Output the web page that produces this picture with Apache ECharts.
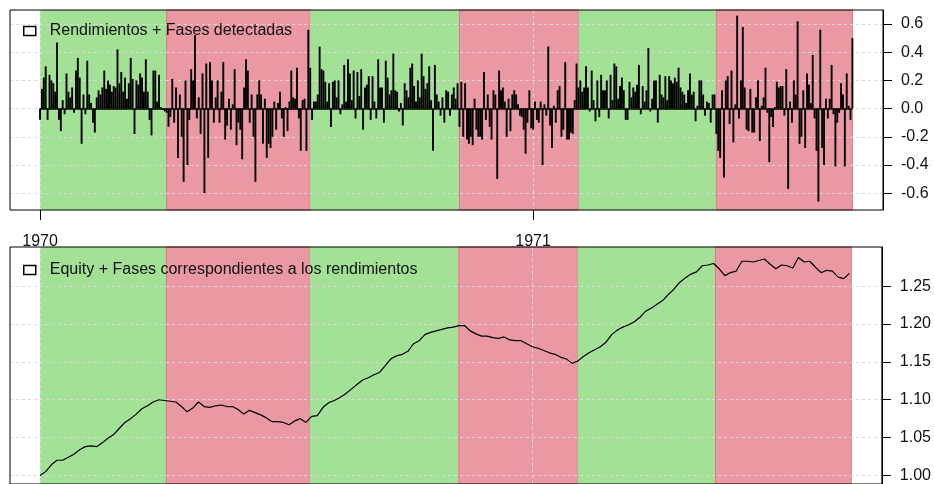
<!DOCTYPE html>
<html>
<head>
<meta charset="utf-8">
<script src="https://cdn.jsdelivr.net/npm/echarts@6/dist/echarts.min.js"></script>
<style>
  html, body { margin: 0; padding: 0; background: #fff; }
  #chart { width: 934px; height: 484px; }
</style>
</head>
<body>
<div id="chart"></div>
<script>
// Daily returns (%) grouped by detected phase, in trading-day order
const returnsFase1 = [ // alcista
  -0.08, 0.14, 0.22, 0.30, -0.08, 0.24, 0.20, 0.18, 0.12, 0.47,
  -0.08, -0.16, 0.06, -0.04, 0.25, 0.12, 0.08, 0.15, -0.03, 0.27,
  0.36, 0.22, -0.25, 0.10, -0.04, 0.34, 0.10, 0.04, -0.10, -0.17,
  0.08, 0.13, 0.10, 0.15, 0.27, 0.14, 0.20, 0.17, 0.12, 0.16,
  0.15, 0.42, 0.18, 0.26, 0.12, 0.22, 0.07, 0.18, 0.36, 0.21,
  -0.18, 0.20, 0.17, 0.25, 0.22, 0.12, 0.35, 0.12, -0.08, -0.19,
  0.27, 0.27, 0.05, 0.24, 0.01, -0.01, -0.02
];
const returnsFase2 = [ // bajista
  -0.03, -0.13, -0.06, 0.21, -0.10, 0.15, -0.35, 0.10, -0.20, -0.52,
  0.20, -0.40, -0.08, 0.28, 0.20, 0.52, -0.07, 0.08, -0.18, 0.25,
  -0.60, 0.32, -0.35, 0.33, 0.20, -0.10, 0.08, 0.20, -0.10, 0.12,
  0.33, -0.22, -0.12, 0.07, -0.15, 0.03, 0.28, -0.26, -0.10, -0.15,
  -0.36, 0.15, 0.35, 0.27, -0.10, 0.10, -0.20, -0.52, 0.10, 0.20,
  0.10, -0.25, 0.07, -0.35, -0.25, -0.28, -0.20, 0.05, -0.15, 0.04,
  0.12, -0.07, -0.20, 0.01, -0.16, 0.05, 0.27, 0.08, 0.07, 0.29,
  -0.07, -0.30, 0.06, 0.07, -0.30, 0.56
];
const returnsFase3 = [ // alcista
  0.29, -0.08, 0.05, 0.05, 0.10, 0.44, 0.28, 0.27, 0.19, 0.05,
  0.18, -0.13, 0.19, 0.20, 0.08, 0.20, -0.04, 0.03, 0.31, 0.05,
  0.35, 0.25, 0.06, 0.27, -0.07, 0.26, 0.09, 0.28, -0.15, 0.15,
  0.17, 0.23, -0.08, 0.23, 0.05, -0.07, 0.35, 0.15, 0.15, -0.10,
  0.34, 0.22, 0.10, 0.13, 0.39, 0.13, 0.12, -0.02, 0.04, -0.12,
  0.18, 0.13, 0.08, 0.29, 0.32, 0.16, 0.05, 0.20, 0.08, 0.39,
  0.23, 0.14, 0.18, 0.30, 0.06, -0.30, 0.31, 0.10, 0.05, -0.05,
  0.08, -0.10, 0.13, 0.12, -0.05, 0.10, 0.15, 0.07, 0.18
];
const returnsFase4 = [ // bajista
  -0.13, 0.19, -0.20, 0.18, -0.22, -0.25, -0.20, -0.26, 0.07, -0.15,
  -0.20, -0.20, -0.22, 0.26, -0.08, 0.10, -0.13, -0.22, 0.13, 0.10,
  -0.50, 0.27, 0.13, 0.15, 0.05, -0.20, 0.07, -0.16, 0.10, 0.13,
  0.10, 0.03, -0.05, -0.06, -0.15, -0.32, -0.10, 0.13, -0.14, -0.15,
  0.05, -0.08, -0.10, 0.05, -0.40, 0.03, -0.05, 0.44, -0.12, -0.28,
  0.02, -0.10, 0.13, 0.16, -0.20, -0.15, 0.33, -0.22, -0.22, -0.17,
  -0.18, 0.06, 0.32
];
const returnsFase5 = [ // alcista
  0.15, 0.20, 0.12, 0.15, 0.30, 0.15, -0.02, 0.27, 0.06, -0.09,
  0.20, -0.06, 0.24, 0.13, 0.13, 0.20, -0.07, 0.24, 0.06, 0.32,
  0.30, 0.07, 0.16, 0.22, 0.13, -0.08, -0.08, 0.19, 0.08, 0.15,
  0.12, 0.17, 0.31, -0.04, 0.16, 0.05, 0.13, 0.43, -0.02, 0.07,
  0.20, 0.20, -0.10, 0.24, 0.10, 0.08, 0.23, 0.06, 0.23, 0.20,
  0.18, 0.22, 0.19, 0.29, 0.15, 0.12, 0.10, 0.04, 0.13, 0.25,
  0.10, 0.12, -0.09, 0.02, 0.20, 0.20, 0.10, -0.05, 0.05, 0.04,
  -0.10, 0.10, 0.10
];
const returnsFase6 = [ // bajista
  -0.18, -0.30, -0.35, 0.13, -0.49, 0.20, 0.23, -0.11, 0.27, -0.24,
  0.03, 0.66, -0.07, 0.20, 0.58, 0.15, -0.15, -0.16, 0.14, -0.17,
  -0.17, 0.08, 0.20, -0.23, 0.02, 0.08, 0.29, -0.03, -0.38, -0.06,
  -0.13, 0.01, 0.19, 0.15, 0.16, 0.16, -0.05, 0.28, -0.57, 0.05,
  -0.10, 0.20, 0.10, 0.62, -0.25, -0.20, 0.13, -0.28, 0.25, 0.17,
  0.04, 0.38, -0.07, -0.30, -0.66, 0.56, -0.28, -0.40, 0.07, -0.07,
  0.07, 0.31, -0.04, -0.41, -0.10, -0.03, 0.18, 0.10, -0.41, 0.25,
  0.02, -0.08, 0.50
];
const phaseReturns = [returnsFase1, returnsFase2, returnsFase3, returnsFase4, returnsFase5, returnsFase6];
const phaseKinds = ['alcista', 'bajista', 'alcista', 'bajista', 'alcista', 'bajista'];

// Equity curve, one reading every third trading day
const equityStep = 3;
const equity = [
  1.000, 1.005, 1.014, 1.020, 1.020, 1.024, 1.028, 1.034, 1.038, 1.039,
  1.038, 1.043, 1.049, 1.054, 1.062, 1.070, 1.075, 1.081, 1.088, 1.092,
  1.097, 1.100, 1.099, 1.098, 1.097, 1.091, 1.084, 1.089, 1.097, 1.091,
  1.090, 1.092, 1.093, 1.091, 1.091, 1.087, 1.081, 1.086, 1.083, 1.080,
  1.076, 1.071, 1.071, 1.070, 1.067, 1.072, 1.075, 1.070, 1.078, 1.079,
  1.090, 1.096, 1.099, 1.103, 1.108, 1.114, 1.120, 1.126, 1.129, 1.133,
  1.136, 1.145, 1.154, 1.158, 1.160, 1.164, 1.174, 1.178, 1.186, 1.189,
  1.191, 1.193, 1.195, 1.196, 1.198, 1.198, 1.191, 1.187, 1.184, 1.184,
  1.182, 1.181, 1.183, 1.179, 1.178, 1.178, 1.174, 1.170, 1.168, 1.165,
  1.162, 1.160, 1.156, 1.154, 1.148, 1.151, 1.157, 1.162, 1.166, 1.170,
  1.176, 1.186, 1.192, 1.196, 1.199, 1.203, 1.209, 1.217, 1.221, 1.226,
  1.231, 1.239, 1.246, 1.255, 1.261, 1.266, 1.269, 1.277, 1.278, 1.280,
  1.273, 1.264, 1.268, 1.270, 1.283, 1.283, 1.282, 1.284, 1.286, 1.279,
  1.273, 1.278, 1.277, 1.274, 1.288, 1.282, 1.283, 1.275, 1.268, 1.271,
  1.270, 1.262, 1.260, 1.267
];

// Axis ticks
const yearLabels = ['1970', '1971'];
const yearStartDay = [0, 261];
const returnTicks = [-0.6, -0.4, -0.2, 0.0, 0.2, 0.4, 0.6];
const equityTicks = [1.00, 1.05, 1.10, 1.15, 1.20, 1.25];

const phaseColors = { alcista: '#a2e196', bajista: '#ea98a4' };
const FONT = '"Liberation Sans", Arial, sans-serif';

// Flatten returns and work out where each phase begins and ends
const returns = [].concat(...phaseReturns);
const lastDay = returns.length - 1;
const phaseStart = [];
phaseReturns.reduce((acc, arr) => { phaseStart.push(acc); return acc + arr.length; }, 0);
const phaseEnd = phaseStart.map((s, j) => j + 1 < phaseStart.length ? phaseStart[j + 1] : lastDay);

const phaseAreas = phaseKinds.map((k, j) => [
  {
    xAxis: phaseStart[j],
    itemStyle: {
      color: phaseColors[k],
      borderColor: k === 'bajista' ? '#e07886' : phaseColors[k],
      borderWidth: k === 'bajista' ? 1 : 0
    }
  },
  { xAxis: phaseEnd[j] }
]);

const gridLine = { show: true, lineStyle: { color: '#d8d8d8', width: 1, type: [3, 3] } };
const xRange = { min: -15.9, max: 446.2 };

const legendCommon = {
  left: 23, padding: 0, itemWidth: 12, itemHeight: 9, selectedMode: false,
  itemStyle: { color: '#fff', borderColor: '#000', borderWidth: 1.5 },
  textStyle: { fontFamily: FONT, fontSize: 16, color: '#111', padding: [0, 0, 0, 9] }
};

const chart = echarts.init(document.getElementById('chart'), null, { renderer: 'canvas' });
chart.setOption({
  animation: false,
  backgroundColor: '#fff',
  legend: [
    Object.assign({ top: 23, data: [{ name: 'Rendimientos + Fases detectadas', icon: 'rect' }] }, legendCommon),
    Object.assign({ top: 262, data: [{ name: 'Equity + Fases correspondientes a los rendimientos', icon: 'rect' }] }, legendCommon)
  ],
  grid: [
    { left: 10, right: 51, top: 10, height: 200, show: true, borderColor: '#000', borderWidth: 1, backgroundColor: 'transparent', z: 3 },
    { left: 10, right: 51, top: 247, bottom: -3, show: true, borderColor: '#000', borderWidth: 1, backgroundColor: 'transparent', z: 3 }
  ],
  xAxis: [
    Object.assign({
      gridIndex: 0, type: 'value', position: 'bottom', z: 1.5,
      axisLine: { show: false, onZero: false },
      axisTick: { show: true, length: 10, customValues: yearStartDay, lineStyle: { color: '#000', width: 1 } },
      axisLabel: {
        customValues: yearStartDay, margin: 24, color: '#111', fontSize: 16, fontFamily: FONT,
        formatter: v => yearLabels[yearStartDay.indexOf(v)]
      },
      splitLine: gridLine
    }, xRange),
    Object.assign({
      gridIndex: 1, type: 'value', position: 'bottom', z: 1.5,
      axisLine: { show: false, onZero: false },
      axisTick: { show: false, customValues: yearStartDay },
      axisLabel: { show: false, customValues: yearStartDay },
      splitLine: gridLine
    }, xRange)
  ],
  yAxis: [
    {
      gridIndex: 0, type: 'value', position: 'right', min: -0.72, max: 0.70, z: 1.5,
      axisLine: { show: true, onZero: false, lineStyle: { color: '#000' } },
      axisTick: { show: true, length: 9, customValues: returnTicks, lineStyle: { color: '#000' } },
      axisLabel: {
        customValues: returnTicks, margin: 18, color: '#111', fontSize: 16, fontFamily: FONT,
        formatter: v => v.toFixed(1)
      },
      splitLine: gridLine
    },
    {
      gridIndex: 1, type: 'value', position: 'right', min: 0.98865, max: 1.3018, z: 1.5,
      axisLine: { show: true, onZero: false, lineStyle: { color: '#000' } },
      axisTick: { show: true, length: 9, customValues: equityTicks, lineStyle: { color: '#000' } },
      axisLabel: {
        customValues: equityTicks, margin: 18, color: '#111', fontSize: 16, fontFamily: FONT,
        formatter: v => v.toFixed(2)
      },
      splitLine: gridLine
    }
  ],
  series: [
    {
      name: 'Rendimientos + Fases detectadas',
      type: 'bar',
      xAxisIndex: 0, yAxisIndex: 0,
      barWidth: 1.9,
      itemStyle: { color: '#000' },
      data: returns.map((r, i) => [i, r]),
      markArea: { silent: true, data: phaseAreas },
      markLine: {
        silent: true, symbol: 'none', label: { show: false },
        lineStyle: { color: '#000', width: 1.5, type: 'solid' },
        data: [[{ coord: [0, 0] }, { coord: [lastDay, 0] }]]
      }
    },
    {
      name: 'Equity + Fases correspondientes a los rendimientos',
      type: 'line',
      xAxisIndex: 1, yAxisIndex: 1,
      symbol: 'none', showSymbol: false,
      lineStyle: { color: '#000', width: 1.2 },
      itemStyle: { color: '#000' },
      data: equity.map((v, k) => [k * equityStep, v]),
      markArea: { silent: true, data: phaseAreas }
    }
  ]
});
</script>
</body>
</html>
